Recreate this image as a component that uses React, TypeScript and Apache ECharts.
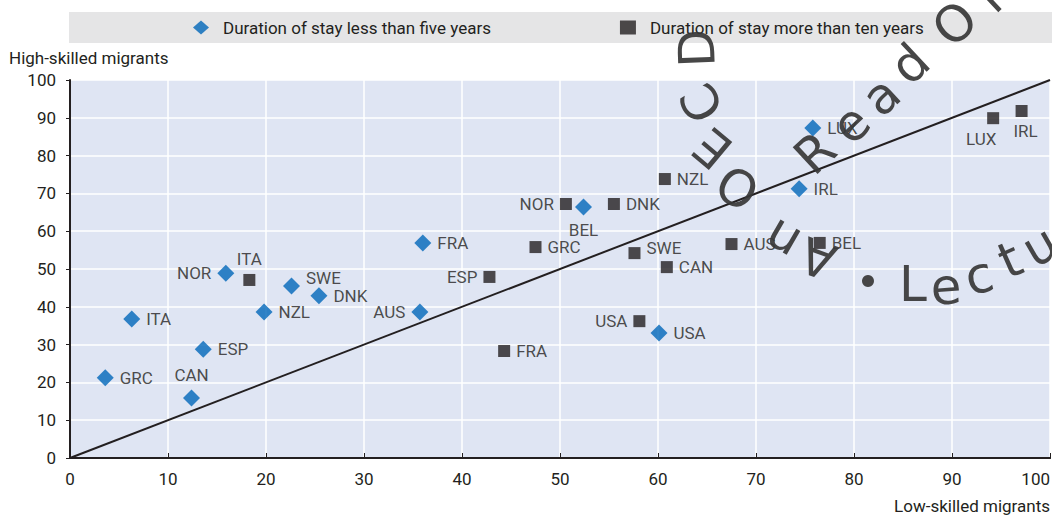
import React, { useEffect, useRef } from "react";
import * as echarts from "echarts";

// ---- Data ----
const lessCountries = ["GRC", "ITA", "CAN", "ESP", "NOR", "NZL", "SWE", "DNK", "AUS", "FRA", "BEL", "USA", "IRL", "LUX"];
const lessLow = [3.6, 6.3, 12.4, 13.6, 15.9, 19.8, 22.6, 25.4, 35.7, 36.0, 52.4, 60.1, 74.4, 75.8];
const lessHigh = [21.2, 36.8, 15.9, 28.8, 48.9, 38.6, 45.5, 42.9, 38.6, 56.9, 66.4, 33.1, 71.2, 87.3];

const moreCountries = ["ITA", "FRA", "ESP", "GRC", "NOR", "DNK", "SWE", "USA", "CAN", "NZL", "AUS", "BEL", "LUX", "IRL"];
const moreLow = [18.3, 44.3, 42.8, 47.5, 50.6, 55.5, 57.6, 58.1, 60.9, 60.7, 67.5, 76.5, 94.2, 97.1];
const moreHigh = [47.1, 28.3, 47.9, 55.8, 67.2, 67.2, 54.2, 36.2, 50.5, 73.8, 56.6, 56.9, 89.9, 91.8];

const seriesNames = ["Duration of stay less than five years", "Duration of stay more than ten years"];
const xTitle = "Low-skilled migrants";
const yTitle = "High-skilled migrants";

// label placement (styling)
const lessLabelPos: Record<string, any> = {
  CAN: { position: "top" },
  NOR: { position: "left" },
  SWE: { position: "right", offset: [0, -8] },
  AUS: { position: "left" },
  BEL: { position: "bottom" },
};
const moreLabelPos: Record<string, any> = {
  ITA: { position: "top" },
  ESP: { position: "left" },
  NOR: { position: "left" },
  SWE: { position: "right", offset: [0, -5] },
  USA: { position: "left" },
  LUX: { position: "bottom", offset: [-12, 0] },
  IRL: { position: "bottom", offset: [4, 0] },
};

const FONT = "'Liberation Sans Narrow', 'Roboto', 'Arial Narrow', sans-serif";
const TXT = "#231f20";
const BLUE = "#0067b9";
const BLACK = "#231f20";

export default function App() {
  const ref = useRef<HTMLDivElement>(null);
  useEffect(() => {
    if (!ref.current) return;
    const chart = echarts.init(ref.current, undefined, { renderer: "svg" });

    const mk = (names: string[], xs: number[], ys: number[], pos: Record<string, any>) =>
      names.map((n, i) => {
        const p = pos[n] || { position: "right" };
        return {
          name: n,
          value: [xs[i], ys[i]],
          label: { show: true, formatter: n, position: p.position, offset: p.offset || [0, 0] },
        };
      });

    const wmColor = "rgba(55,55,55,0.92)";
    const wmFont = "'DejaVu Sans', Verdana, sans-serif";
    const deg = (d: number) => (d * Math.PI) / 180;
    const glyph = (t: string, x: number, y: number, rot: number, size = 50) => ({
      type: "text",
      x,
      y,
      rotation: deg(rot),
      z: 100,
      silent: true,
      style: {
        text: t,
        fontSize: size,
        fontFamily: wmFont,
        fill: wmColor,
        align: "center",
        verticalAlign: "middle",
      },
    });

    const option: any = {
      animation: false,
      textStyle: { fontFamily: FONT },
      grid: {
        left: 70,
        right: 2,
        top: 80,
        bottom: 59,
        show: true,
        backgroundColor: "#dfe5f3",
        borderWidth: 0,
        outerBoundsMode: "none",
        containLabel: false,
      },
      legend: {
        left: 188,
        top: 14,
        itemWidth: 16,
        itemHeight: 14,
        itemGap: 129,
        textStyle: { fontFamily: FONT, fontSize: 17, color: TXT, padding: [0, 0, 0, 9] },
        data: [
          { name: seriesNames[0], icon: "diamond" },
          { name: seriesNames[1], icon: "rect" },
        ],
      },
      xAxis: [
        {
          type: "value",
          min: 0,
          max: 100,
          interval: 10,
          name: xTitle,
          nameLocation: "end",
          nameGap: 0,
          nameTextStyle: { fontFamily: FONT, fontSize: 17, color: TXT, align: "right", verticalAlign: "top", padding: [39, 0, 0, 0] },
          axisLine: { show: true, onZero: false, lineStyle: { color: "#231f20", width: 2 } },
          axisTick: { show: true, inside: true, length: 5, lineStyle: { color: "#231f20" } },
          axisLabel: { fontFamily: FONT, fontSize: 17, color: TXT, margin: 12, alignMaxLabel: "right" },
          splitLine: { show: true, lineStyle: { color: "#ffffff", width: 1.5 } },
        },
        {
          type: "value",
          position: "top",
          min: 0,
          max: 100,
          interval: 10,
          axisLine: { show: true, lineStyle: { color: "#231f20", width: 2 } },
          axisTick: { show: false },
          axisLabel: { show: false },
          splitLine: { show: false },
        },
      ],
      yAxis: {
        type: "value",
        min: 0,
        max: 100,
        interval: 10,
        name: yTitle,
        nameLocation: "end",
        nameGap: 14,
        nameTextStyle: { fontFamily: FONT, fontSize: 17, color: TXT, align: "left", padding: [0, 0, 0, -61] },
        axisLine: { show: true, lineStyle: { color: "#231f20", width: 2 } },
        axisTick: { show: true, length: 4, lineStyle: { color: "#231f20" } },
        axisLabel: { fontFamily: FONT, fontSize: 17, color: TXT, margin: 14 },
        splitLine: { show: true, lineStyle: { color: "#ffffff", width: 1.5 } },
      },
      series: [
        {
          type: "line",
          data: [
            [0, 0],
            [100, 100],
          ],
          symbol: "none",
          lineStyle: { color: "#231f20", width: 2 },
          silent: true,
          z: 1,
        },
        {
          name: seriesNames[0],
          type: "scatter",
          symbol: "diamond",
          symbolSize: 17,
          itemStyle: { color: BLUE },
          label: { fontFamily: FONT, fontSize: 17, color: TXT, distance: 6 },
          data: mk(lessCountries, lessLow, lessHigh, lessLabelPos),
          z: 3,
        },
        {
          name: seriesNames[1],
          type: "scatter",
          symbol: "rect",
          symbolSize: 12,
          itemStyle: { color: BLACK },
          label: { fontFamily: FONT, fontSize: 17, color: TXT, distance: 6 },
          data: mk(moreCountries, moreLow, moreHigh, moreLabelPos),
          z: 3,
        },
      ],
      graphic: [
        {
          type: "rect",
          left: 69,
          top: 12,
          z: -10,
          silent: true,
          shape: { width: 983, height: 31 },
          style: { fill: "#e5e5e6" },
        },
        // watermark glyphs
        glyph("D", 697, 48, 92),
        glyph("C", 702, 103, 120),
        glyph("E", 713, 148, 140),
        glyph("O", 738, 187, 150),
        glyph("n", 782, 240, 150),
        glyph("A", 818, 258, 160),
        glyph("R", 815, 153, 43),
        glyph("e", 851, 124, 43),
        glyph("a", 881, 96, 43),
        glyph("d", 910, 64, 43),
        glyph("O", 955, 24, 43),
        glyph("n", 995, -8, 43),
        { type: "circle", z: 100, silent: true, shape: { cx: 868, cy: 281, r: 6 }, style: { fill: wmColor } },
        glyph("L", 913, 284, 0),
        glyph("e", 946, 287, 4),
        glyph("c", 979, 276, 14),
        glyph("t", 1010, 260, 24),
        glyph("u", 1040, 246, 30),
      ],
    };
    chart.setOption(option);
    return () => chart.dispose();
  }, []);
  return <div ref={ref} style={{ width: 1052, height: 517, position: "absolute", left: 0, top: 0 }} />;
}
